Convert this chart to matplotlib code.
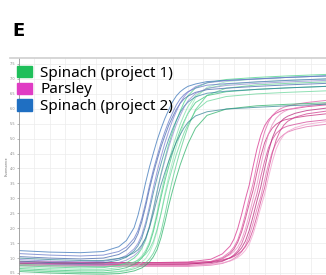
import matplotlib
matplotlib.use("Agg")
import matplotlib.pyplot as plt
from matplotlib.patches import Patch
from matplotlib.lines import Line2D

# cycles sampled for the spinach runs and the parsley runs
cycles_spinach = [0, 4, 8, 11, 13, 14, 15, 15.5, 16, 16.5, 17, 17.5, 18, 18.5, 19, 19.5,
                  20, 20.5, 21, 21.5, 22, 23, 24.5, 27, 31, 35, 40]
cycles_parsley = [0, 6, 12, 18, 22, 25, 26.5, 27.5, 28, 28.5, 29, 29.5, 30, 30.5, 31, 31.5,
                  32, 32.5, 33, 33.5, 34, 34.5, 35, 36, 37.5, 40]

# Spinach (project 2) - blue runs
spinach2 = [
    [1.25, 1.20, 1.18, 1.22, 1.38, 1.59, 2.02, 2.43, 2.95, 3.53, 4.05, 4.51, 4.95, 5.33, 5.67, 5.96,
     6.23, 6.43, 6.57, 6.67, 6.75, 6.83, 6.91, 6.95, 7.00, 7.05, 7.10],
    [1.15, 1.10, 1.07, 1.10, 1.22, 1.37, 1.66, 1.92, 2.33, 2.85, 3.43, 3.95, 4.41, 4.85, 5.23, 5.57,
     5.86, 6.13, 6.33, 6.47, 6.57, 6.69, 6.79, 6.84, 6.90, 6.95, 7.00],
    [1.05, 1.00, 0.97, 1.00, 1.12, 1.27, 1.55, 1.81, 2.22, 2.73, 3.31, 3.83, 4.29, 4.72, 5.09, 5.44,
     5.72, 5.98, 6.18, 6.33, 6.42, 6.55, 6.64, 6.69, 6.75, 6.80, 6.85],
    [0.95, 0.90, 0.87, 0.89, 0.98, 1.09, 1.31, 1.49, 1.77, 2.19, 2.74, 3.35, 3.90, 4.39, 4.85, 5.24,
     5.61, 5.91, 6.19, 6.40, 6.55, 6.74, 6.87, 6.94, 7.00, 7.05, 7.10],
    [0.90, 0.85, 0.82, 0.84, 0.93, 1.03, 1.24, 1.41, 1.67, 2.08, 2.60, 3.18, 3.70, 4.16, 4.60, 4.98,
     5.32, 5.61, 5.88, 6.08, 6.22, 6.40, 6.52, 6.59, 6.65, 6.70, 6.75],
    [0.85, 0.80, 0.77, 0.77, 0.85, 0.93, 1.08, 1.20, 1.39, 1.66, 2.08, 2.63, 3.23, 3.78, 4.26, 4.71,
     5.11, 5.47, 5.77, 6.04, 6.26, 6.51, 6.68, 6.78, 6.85, 6.90, 6.95],
    [1.00, 0.95, 0.92, 0.92, 0.99, 1.05, 1.18, 1.28, 1.44, 1.67, 2.02, 2.48, 2.99, 3.45, 3.86, 4.24,
     4.57, 4.88, 5.13, 5.36, 5.54, 5.76, 5.90, 5.99, 6.05, 6.10, 6.15],
]

# Spinach (project 1) - green runs
spinach1 = [
    [0.75, 0.70, 0.67, 0.68, 0.76, 0.84, 1.00, 1.13, 1.32, 1.60, 2.05, 2.62, 3.25, 3.83, 4.33, 4.81,
     5.22, 5.60, 5.92, 6.21, 6.43, 6.70, 6.87, 6.98, 7.05, 7.10, 7.15],
    [0.70, 0.65, 0.62, 0.62, 0.68, 0.74, 0.85, 0.94, 1.07, 1.26, 1.54, 1.98, 2.54, 3.16, 3.73, 4.23,
     4.69, 5.10, 5.48, 5.79, 6.07, 6.44, 6.68, 6.82, 6.90, 6.95, 7.00],
    [0.65, 0.60, 0.57, 0.57, 0.62, 0.68, 0.79, 0.88, 1.00, 1.19, 1.46, 1.88, 2.43, 3.03, 3.58, 4.06,
     4.51, 4.91, 5.27, 5.57, 5.84, 6.21, 6.44, 6.57, 6.65, 6.70, 6.75],
    [0.60, 0.55, 0.52, 0.51, 0.56, 0.61, 0.69, 0.76, 0.86, 0.98, 1.18, 1.47, 1.92, 2.50, 3.15, 3.73,
     4.24, 4.73, 5.14, 5.53, 5.85, 6.37, 6.72, 6.91, 7.00, 7.05, 7.10],
    [0.55, 0.50, 0.47, 0.46, 0.48, 0.52, 0.57, 0.62, 0.67, 0.76, 0.87, 1.04, 1.29, 1.68, 2.19, 2.75,
     3.25, 3.70, 4.12, 4.48, 4.82, 5.35, 5.78, 5.99, 6.10, 6.15, 6.20],
    [0.80, 0.75, 0.72, 0.71, 0.75, 0.80, 0.87, 0.93, 1.02, 1.13, 1.30, 1.56, 1.97, 2.48, 3.06, 3.58,
     4.04, 4.47, 4.84, 5.19, 5.47, 5.93, 6.25, 6.41, 6.50, 6.55, 6.60],
    [0.60, 0.55, 0.52, 0.51, 0.54, 0.58, 0.64, 0.69, 0.75, 0.84, 0.97, 1.16, 1.44, 1.88, 2.44, 3.06,
     3.63, 4.13, 4.59, 5.00, 5.38, 5.97, 6.45, 6.69, 6.80, 6.85, 6.90],
]

# Parsley - magenta runs
parsley = [
    [0.87, 0.86, 0.85, 0.85, 0.87, 0.96, 1.14, 1.40, 1.63, 1.99, 2.46, 2.98, 3.45, 4.07, 4.65, 5.11,
     5.43, 5.63, 5.76, 5.85, 5.91, 5.95, 5.98, 6.01, 6.07, 6.13],
    [0.82, 0.81, 0.80, 0.80, 0.81, 0.89, 1.02, 1.21, 1.37, 1.61, 1.99, 2.47, 3.01, 3.50, 4.15, 4.74,
     5.23, 5.55, 5.77, 5.90, 5.99, 6.05, 6.09, 6.15, 6.21, 6.28],
    [0.80, 0.79, 0.78, 0.78, 0.79, 0.86, 0.98, 1.15, 1.30, 1.53, 1.87, 2.32, 2.82, 3.27, 3.86, 4.41,
     4.86, 5.15, 5.35, 5.48, 5.56, 5.62, 5.65, 5.70, 5.76, 5.83],
    [0.84, 0.83, 0.82, 0.82, 0.83, 0.88, 0.98, 1.11, 1.22, 1.37, 1.61, 1.98, 2.46, 2.99, 3.46, 4.09,
     4.67, 5.15, 5.47, 5.68, 5.81, 5.90, 5.96, 6.03, 6.10, 6.18],
    [0.77, 0.76, 0.75, 0.75, 0.75, 0.81, 0.89, 1.01, 1.11, 1.25, 1.47, 1.81, 2.24, 2.72, 3.15, 3.73,
     4.25, 4.69, 4.97, 5.17, 5.29, 5.37, 5.42, 5.48, 5.56, 5.63],
    [0.82, 0.81, 0.80, 0.80, 0.80, 0.85, 0.91, 1.01, 1.08, 1.19, 1.34, 1.57, 1.93, 2.40, 2.91, 3.38,
     3.99, 4.56, 5.02, 5.33, 5.54, 5.67, 5.75, 5.85, 5.94, 6.02],
    [0.74, 0.73, 0.72, 0.72, 0.72, 0.76, 0.82, 0.91, 0.98, 1.07, 1.21, 1.42, 1.75, 2.17, 2.64, 3.06,
     3.62, 4.14, 4.56, 4.84, 5.03, 5.14, 5.22, 5.31, 5.40, 5.48],
    [0.87, 0.86, 0.85, 0.85, 0.85, 0.88, 0.94, 1.00, 1.05, 1.13, 1.23, 1.38, 1.60, 1.95, 2.40, 2.90,
     3.35, 3.95, 4.50, 4.95, 5.25, 5.45, 5.58, 5.72, 5.83, 5.92],
    [0.78, 0.77, 0.76, 0.76, 0.76, 0.79, 0.84, 0.90, 0.95, 1.02, 1.12, 1.26, 1.47, 1.80, 2.23, 2.70,
     3.13, 3.70, 4.22, 4.65, 4.93, 5.12, 5.24, 5.37, 5.48, 5.57],
]

y_ticks = [0.5, 1.0, 1.5, 2.0, 2.5, 3.0, 3.5, 4.0, 4.5, 5.0, 5.5, 6.0, 6.5, 7.0, 7.5]
legend_labels = ["Spinach (project 1)", "Parsley", "Spinach (project 2)"]

blue_cols = ['#2f6db5', '#5a6fc4', '#3b5fa8', '#7a7ad0', '#2e7ea0', '#8a86cc', '#2a7f8f']
green_cols = ['#4cd68a', '#7fe0a8', '#3cc47a', '#9be8bb', '#2fb36a', '#6ad69a', '#5ccf8e']
pink_cols = ['#d8348f', '#e060a8', '#c9307f', '#e88ac0', '#d44898', '#b8287a', '#e070b0',
             '#d03c8c', '#f0a0cc']

fig = plt.figure(figsize=(3.26, 2.75), dpi=100)
ax = fig.add_axes([19 / 326, 0, 307 / 326, 217 / 275])

for vals, c in zip(parsley, pink_cols):
    ax.plot(cycles_parsley, vals, color=c, lw=0.7, alpha=0.75)
for vals, c in zip(spinach1, green_cols):
    ax.plot(cycles_spinach, vals, color=c, lw=0.7, alpha=0.75)
for vals, c in zip(spinach2, blue_cols):
    ax.plot(cycles_spinach, vals, color=c, lw=0.7, alpha=0.7)

ax.set_xlim(0, 40)
ax.set_ylim(0.433, 7.70)
ax.set_yticks(y_ticks)
ax.set_yticklabels([f"{t:.1f}" for t in y_ticks], fontsize=2.5, color='#666666')
ax.set_xticks(range(0, 41, 2))
ax.tick_params(axis='x', length=0, labelbottom=False)
ax.tick_params(axis='y', length=1.5, width=0.4, pad=1, colors='#888888')
ax.grid(True, color='#ececec', lw=0.5)
ax.set_axisbelow(True)
ax.set_ylabel("Fluorescence", fontsize=2.2, color='#666666', labelpad=1)
for s in ['right', 'bottom', 'top']:
    ax.spines[s].set_visible(False)
ax.spines['left'].set_color('#999999')
ax.spines['left'].set_linewidth(0.6)

# gray rule above the panel
fig.add_artist(Line2D([10 / 326, 1], [1 - 58 / 275, 1 - 58 / 275], color='#cfcfcf', lw=1.2))

handles = [Patch(color='#1fbf5a'), Patch(color='#e03cc4'), Patch(color='#1f6fc2')]
ax.legend(handles, legend_labels, loc='upper left', bbox_to_anchor=(-0.005, 0.965),
          frameon=False, prop={'family': 'Noto Sans', 'size': 11}, handlelength=0.95,
          handleheight=0.75, handletextpad=0.55, labelspacing=0.12, borderaxespad=0,
          borderpad=0)

fig.text(12 / 326, 1 - 36 / 275, "E", fontsize=13, fontweight='bold', va='baseline',
         ha='left', family='DejaVu Sans')

fig.savefig("out.png", dpi=100)
